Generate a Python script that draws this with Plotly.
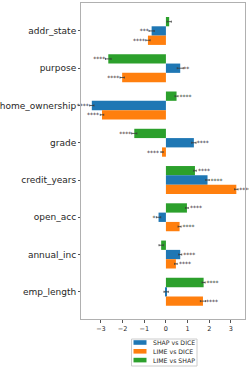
import plotly.graph_objects as go

features = ["addr_state", "purpose", "home_ownership", "grade",
            "credit_years", "open_acc", "annual_inc", "emp_length"]

shap_vs_dice = [-0.66, 0.66, -3.42, 1.29, 1.92, -0.34, 0.66, 0.01]
lime_vs_dice = [-0.83, -2.02, -2.95, -0.18, 3.25, 0.63, 0.46, 1.71]
lime_vs_shap = [0.15, -2.66, 0.49, -1.46, 1.34, 0.97, -0.22, 1.74]

shap_vs_dice_err = [0.12, 0.14, 0.10, 0.10, 0.08, 0.10, 0.07, 0.10]
lime_vs_dice_err = [0.10, 0.10, 0.08, 0.05, 0.08, 0.07, 0.06, 0.12]
lime_vs_shap_err = [0.10, 0.13, 0.07, 0.12, 0.06, 0.06, 0.10, 0.07]

shap_vs_dice_sig = ["***", "**", "****", "****", "****", "*", "****", ""]
lime_vs_dice_sig = ["****", "****", "****", "****", "****", "****", "****", "****"]
lime_vs_shap_sig = ["", "****", "****", "****", "****", "****", "", "****"]

x_ticks = [-3, -2, -1, 0, 1, 2, 3]

series = [
    ("LIME vs SHAP", lime_vs_shap, lime_vs_shap_err, lime_vs_shap_sig, "#2ca02c"),
    ("SHAP vs DICE", shap_vs_dice, shap_vs_dice_err, shap_vs_dice_sig, "#1f77b4"),
    ("LIME vs DICE", lime_vs_dice, lime_vs_dice_err, lime_vs_dice_sig, "#ff7f0e"),
]
legend_order = ["SHAP vs DICE", "LIME vs DICE", "LIME vs SHAP"]
colors = {name: c for name, _, _, _, c in series}

fig = go.Figure()
for name, vals, errs, sig, color in series:
    fig.add_trace(go.Bar(
        y=features, x=vals, name=name, orientation="h",
        marker=dict(color=color, line=dict(width=0)),
        error_x=dict(type="data", array=errs, color="#3a3a3a", thickness=0.8, width=1),
        text=sig, textposition="outside", cliponaxis=False,
        textfont=dict(size=6, color="#222222", family="DejaVu Sans"),
        constraintext="none", showlegend=False,
    ))

# manual legend (compact, matplotlib-like)
W, H, L, T, R, B = 249, 367, 81, 3, 4, 48
pw, ph = W - L - R, H - T - B
def px(x):
    return (x - L) / pw
def py(y):
    return (H - B - y) / ph

fig.add_shape(type="rect", xref="paper", yref="paper",
              x0=px(131.5), x1=px(197), y0=py(339), y1=py(366),
              line=dict(color="#cccccc", width=1), fillcolor="white")
for i, name in enumerate(legend_order):
    yc = 342.5 + i * 8.8
    fig.add_shape(type="rect", xref="paper", yref="paper",
                  x0=px(133.5), x1=px(146.5), y0=py(yc - 2.3), y1=py(yc + 2.3),
                  line=dict(width=0), fillcolor=colors[name])
    fig.add_annotation(xref="paper", yref="paper", x=px(150.5), y=py(yc),
                       text=name, showarrow=False, xanchor="left", yanchor="middle",
                       font=dict(size=6.2, color="#262626", family="DejaVu Sans"))

fig.update_layout(
    width=W, height=H,
    margin=dict(l=L, r=R, t=T, b=B, autoexpand=False),
    barmode="group", bargap=0.25, bargroupgap=0,
    plot_bgcolor="white", paper_bgcolor="white",
    font=dict(family="DejaVu Sans", color="#262626"),
    showlegend=False,
)
fig.update_xaxes(
    range=[-3.92, 3.65], tickvals=x_ticks,
    ticktext=["\u22123", "\u22122", "\u22121", "0", "1", "2", "3"],
    tickfont=dict(size=6.5, color="#262626"),
    showgrid=False, zeroline=False, automargin=False,
    showline=True, mirror=True, linecolor="#b0b0b0", linewidth=1,
    ticks="outside", ticklen=3, tickcolor="#555555",
)
fig.update_yaxes(
    categoryorder="array", categoryarray=features, range=[7.73, -0.75],
    tickfont=dict(size=9, color="#262626"),
    showgrid=False, zeroline=False, automargin=False,
    showline=True, mirror=True, linecolor="#b0b0b0", linewidth=1,
    ticks="outside", ticklen=2, tickcolor="#555555",
)

fig.write_html("out.html", config={"displayModeBar": False},
               post_script="document.body.style.margin='0';")
